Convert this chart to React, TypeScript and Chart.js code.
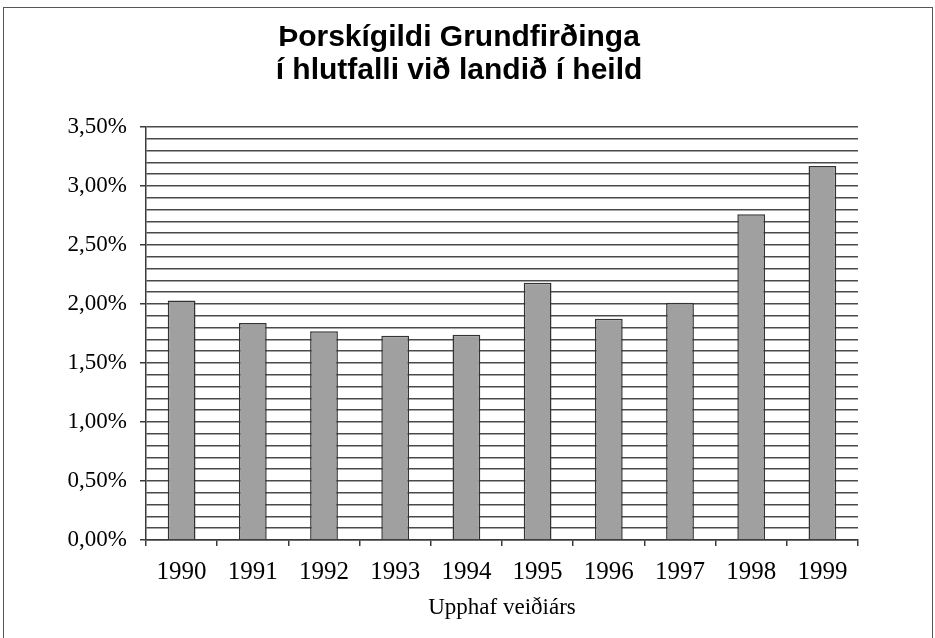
import React, { useEffect, useRef } from "react";
import { Chart, registerables } from "chart.js";

Chart.register(...registerables);

const categories = ["1990", "1991", "1992", "1993", "1994", "1995", "1996", "1997", "1998", "1999"];
const shares = [2.03, 1.84, 1.77, 1.73, 1.74, 2.18, 1.875, 2.01, 2.76, 3.17];
const titleLines = ["Þorskígildi Grundfirðinga", "í hlutfalli við landið í heild"];
const xTitle = "Upphaf veiðiárs";
const yMin = 0;
const yMax = 3.5;
const yStep = 0.1;
const yLabelEvery = 0.5;

const isMajor = (v: number) => Math.round(v * 100) % Math.round(yLabelEvery * 100) === 0;

export default function App() {
  const ref = useRef<HTMLCanvasElement | null>(null);
  useEffect(() => {
    if (!ref.current) return;
    const dark = "#3a3a3a";
    const chart = new Chart(ref.current, {
      type: "bar",
      data: {
        labels: categories,
        datasets: [
          {
            data: shares,
            backgroundColor: "#a0a0a0",
            borderColor: "#333333",
            borderWidth: 1.5,
            categoryPercentage: 1,
            barPercentage: 0.39,
          },
        ],
      },
      options: {
        responsive: false,
        animation: false,
        devicePixelRatio: 1,
        layout: { padding: { left: 60, right: 77, top: 0, bottom: 0 } },
        plugins: {
          legend: { display: false },
          tooltip: { enabled: false },
          title: {
            display: true,
            text: titleLines,
            color: "#000",
            font: { family: "Liberation Sans", weight: "bold", size: 30, lineHeight: 1.1 },
            padding: { top: 21, bottom: 40 },
          },
        },
        scales: {
          x: {
            afterFit: (s: any) => {
              s.height = 98;
            },
            grid: {
              display: true,
              drawOnChartArea: false,
              offset: true,
              tickLength: 6,
              color: dark,
              tickColor: dark,
              lineWidth: 1.5,
            },
            border: { display: true, color: dark, width: 1.5 },
            ticks: {
              color: "#000",
              font: { family: "Liberation Serif", size: 25 },
              padding: 11,
              autoSkip: false,
              maxRotation: 0,
            },
            title: {
              display: true,
              text: xTitle,
              color: "#000",
              font: { family: "Liberation Serif", size: 23, lineHeight: 1.2 },
              padding: { top: 0, bottom: 16 },
            },
          },
          y: {
            min: yMin,
            max: yMax,
            afterFit: (s: any) => {
              s.width = 86;
            },
            grid: {
              color: "#4a4a4a",
              lineWidth: 1.5,
              tickLength: 6,
              tickColor: (c: any) => (c.tick && isMajor(c.tick.value) ? dark : "rgba(0,0,0,0)"),
            },
            border: { display: true, color: dark, width: 1.5 },
            ticks: {
              stepSize: yStep,
              maxTicksLimit: 100,
              autoSkip: false,
              color: "#000",
              font: { family: "Liberation Serif", size: 23 },
              padding: 13,
              callback: (v: any) => {
                const n = Number(v);
                return isMajor(n) ? n.toFixed(2).replace(".", ",") + "%" : "";
              },
            },
          },
        },
      },
    });
    return () => chart.destroy();
  }, []);

  return (
    <div>
      <canvas
        ref={ref}
        width={935}
        height={638}
        style={{ position: "fixed", left: 0, top: 0, width: 935, height: 638, background: "#fff" }}
      />
      <div
        style={{
          position: "fixed",
          left: 3,
          top: 7,
          width: 928,
          height: 700,
          borderTop: "1.5px solid #555",
          borderLeft: "1.5px solid #555",
          borderRight: "1.5px solid #555",
          pointerEvents: "none",
        }}
      />
    </div>
  );
}
